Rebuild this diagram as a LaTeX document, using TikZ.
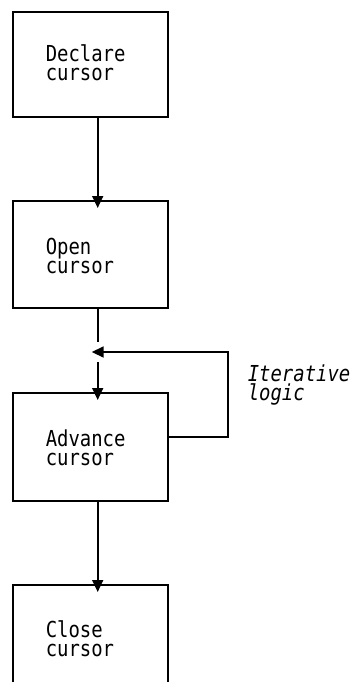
\documentclass[tikz,border=0pt]{standalone}
\usepackage{fontspec}
\setmonofont[FakeStretch=0.86]{DejaVu Sans Mono}
\usetikzlibrary{arrows.meta}
\begin{document}
\begin{tikzpicture}[x=1pt,y=-1pt,
  line width=1.6pt,
  stepbox/.style={draw, minimum width=155pt, inner sep=0pt, outer sep=0pt},
  label/.style={anchor=base west, align=left, inner sep=0pt,
     font=\ttfamily\fontsize{22}{18.7}\selectfont},
  flow/.style={-{Triangle[length=12pt,width=11pt]}, shorten >=-7pt}]
\useasboundingbox (0,0) rectangle (355,687);
\node[stepbox, minimum height=105pt] (b1) at (90.5,64.5) {};
\node[stepbox, minimum height=107pt] (b2) at (90.5,254.5) {};
\node[stepbox, minimum height=108pt] (b3) at (90.5,447) {};
\node[minimum width=155pt, minimum height=97pt, inner sep=0pt, outer sep=0pt] (b4) at (90.5,633.5) {};
\draw (b4.south west) -- (b4.north west) -- (b4.north east) -- (b4.south east);

\node[label] (t1) at (45,80.5) {Declare\\cursor};
\node[label] (t2) at (45,273) {Open\\cursor};
\node[label] (t3) at (45,465) {Advance\\cursor};
\node[label] (t4) at (45,656) {Close\\cursor};
\node[label, font=\ttfamily\itshape\fontsize{22}{18.7}\selectfont] (t5) at (247,400) {Iterative\\logic};

\coordinate (a1) at (97.7,117);
\coordinate (a2) at (97.7,201);
\coordinate (c1) at (97.7,308);
\coordinate (c2) at (97.7,342);
\coordinate (c3) at (97.7,362);
\coordinate (c4) at (97.7,393);
\coordinate (j) at (97.7,352);
\coordinate (l1) at (168,437);
\coordinate (l2) at (228,437);
\coordinate (l3) at (228,352);
\coordinate (d1) at (97.7,501);
\coordinate (d2) at (97.7,585);

\draw[flow] (a1) -- (a2);
\draw (c1) -- (c2);
\draw[flow] (c3) -- (c4);
\draw[-{Triangle[length=12pt,width=11pt]}, shorten >=-6pt] (l1) -- (l2) -- (l3) -- (j);
\draw[flow] (d1) -- (d2);
\end{tikzpicture}
\end{document}
